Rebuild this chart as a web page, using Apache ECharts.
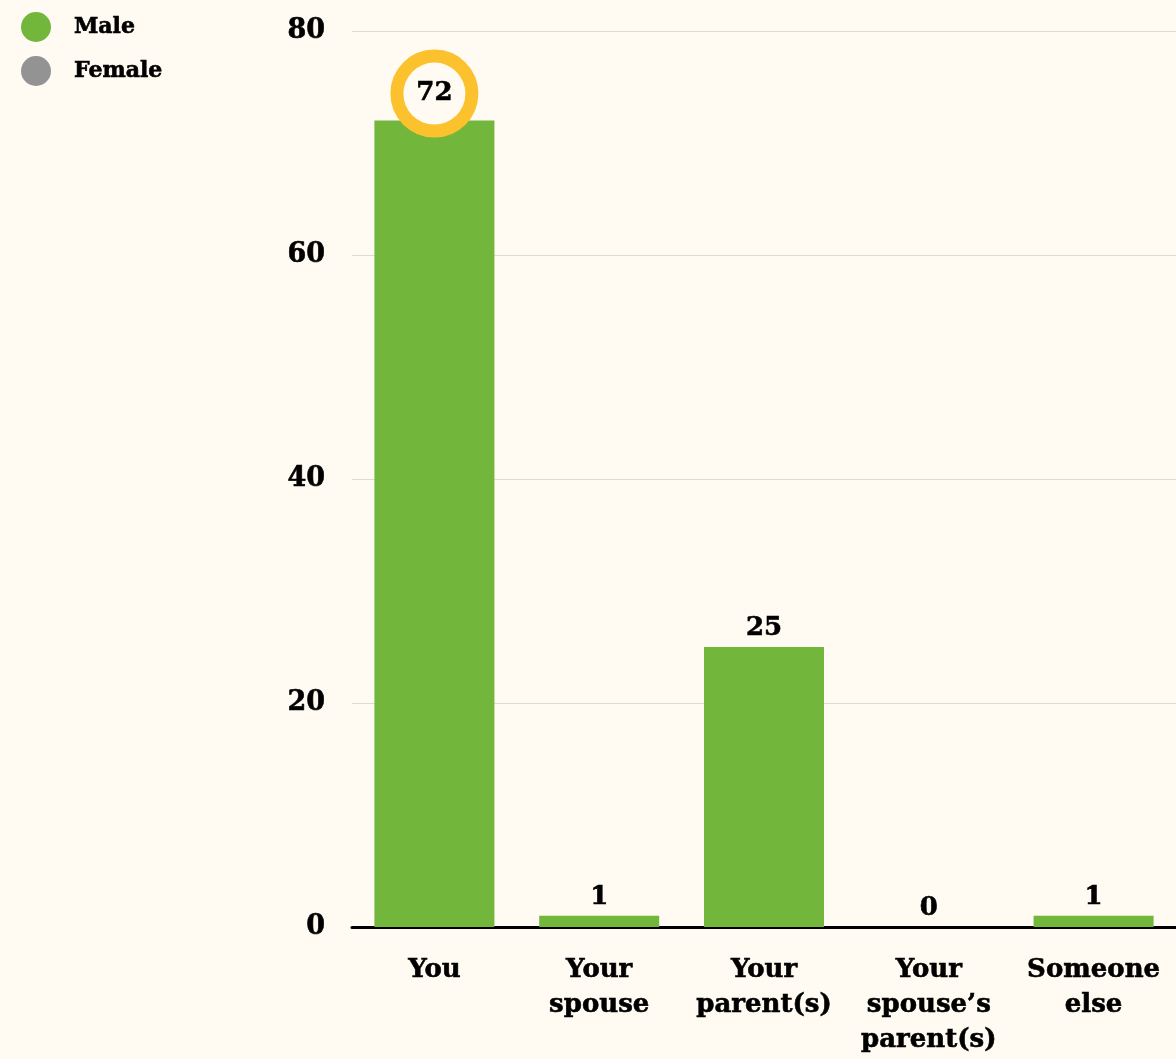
<!DOCTYPE html>
<html>
<head>
<meta charset="utf-8">
<script src="https://cdn.jsdelivr.net/npm/echarts@6/dist/echarts.min.js"></script>
<style>
  html, body { margin: 0; padding: 0; background: #fffaf2; }
  #chart { width: 1176px; height: 1059px; }
</style>
</head>
<body>
<div id="chart"></div>
<script>
// Who does the cooking — responses by gender
const categories = ['You', 'Your\nspouse', 'Your\nparent(s)', 'Your\nspouse\u2019s\nparent(s)', 'Someone\nelse'];
const maleValues = [72, 1, 25, 0, 1];
const femaleValues = [null, null, null, null, null];
const highlightIndex = 0;

const FONT = '"DejaVu Serif", serif';
const BG = '#fffaf2';
const GREEN = '#72b73b';
const GREY = '#939393';
const RING = '#fcc22e';
const INK = '#000';

// bold text gets a thin outline of its own colour for a heavier look
const heavy = { color: INK, textBorderColor: INK, textBorderWidth: 0.6 };

const chart = echarts.init(document.getElementById('chart'));

const maleData = maleValues.map((v, i) => {
  if (i !== highlightIndex) return v;
  return {
    value: v,
    label: {
      width: 62,
      height: 62,
      lineHeight: 62,
      padding: 0,
      align: 'center',
      backgroundColor: BG,
      borderColor: RING,
      borderWidth: 13,
      borderRadius: 31,
      distance: -4
    }
  };
});

chart.setOption({
  backgroundColor: BG,
  animation: false,
  legend: {
    orient: 'vertical',
    left: 16,
    top: 7,
    icon: 'circle',
    itemWidth: 30,
    itemHeight: 30,
    itemGap: 14,
    textStyle: Object.assign({
      fontFamily: FONT,
      fontWeight: 'bold',
      fontSize: 22,
      padding: [0, 0, 0, 18]
    }, heavy),
    data: ['Male', 'Female']
  },
  grid: {
    left: 352,
    right: 0,
    top: 31,
    bottom: 132,
    containLabel: false
  },
  xAxis: {
    type: 'category',
    data: categories,
    axisLine: { show: true, lineStyle: { color: INK, width: 3 } },
    axisTick: { show: false },
    axisLabel: Object.assign({
      fontFamily: FONT,
      fontWeight: 'bold',
      fontSize: 26,
      lineHeight: 35,
      margin: 26,
      interval: 0
    }, heavy)
  },
  yAxis: {
    type: 'value',
    min: 0,
    max: 80,
    interval: 20,
    axisLine: { show: false },
    axisTick: { show: false },
    splitLine: { lineStyle: { color: '#dedbd5', width: 1 } },
    axisLabel: Object.assign({
      fontFamily: FONT,
      fontWeight: 'bold',
      fontSize: 27,
      margin: 27
    }, heavy)
  },
  series: [
    {
      name: 'Male',
      type: 'bar',
      barWidth: 120,
      barGap: '-100%',
      itemStyle: { color: GREEN },
      label: Object.assign({
        show: true,
        position: 'top',
        distance: 6,
        fontFamily: FONT,
        fontWeight: 'bold',
        fontSize: 26
      }, heavy),
      data: maleData
    },
    {
      name: 'Female',
      type: 'bar',
      barWidth: 120,
      itemStyle: { color: GREY },
      data: femaleValues
    }
  ]
});
</script>
</body>
</html>
